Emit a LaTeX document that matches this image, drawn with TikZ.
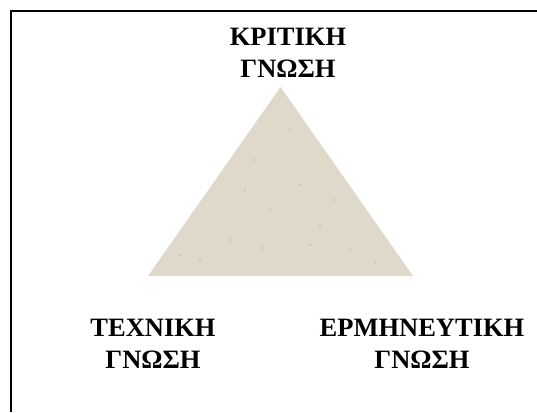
\documentclass[tikz,border=0pt]{standalone}
\usepackage{fontspec}
\setmainfont{Liberation Serif}
\usepackage{tikz}
\usetikzlibrary{positioning}
\definecolor{stonebeige}{RGB}{223,217,203}
\definecolor{stonespeck}{RGB}{160,150,130}

\begin{document}
\begin{tikzpicture}[x=1pt, y=-1pt,
    knowtext/.style={font=\fontsize{26.5}{32}\selectfont\bfseries, align=center, inner sep=0pt}]
    \useasboundingbox (0,0) rectangle (537,412);
    % frame: only top and left edges fall inside
    \draw[line width=1.6pt] (537,11) -- (11,11) -- (11,412);

    % stone triangle
    \coordinate (apex) at (280.5,87);
    \coordinate (bl) at (148,276);
    \coordinate (br) at (413,276);
    \fill[stonebeige] (apex) -- (bl) -- (br) -- cycle;
    \foreach \p in {(255,160),(290,130),(300,185),(320,225),(230,240),(270,210),(350,250),(200,260),(335,200),(180,255),(375,262),(245,190),(310,245),(262,248)}
        \fill[stonespeck, opacity=0.3] \p circle (1.4pt);

    % labels
    \node[knowtext] (krit) at (288,53) {ΚΡΙΤΙΚΗ\\ΓΝΩΣΗ};
    \node[knowtext] (tech) at (153,344) {ΤΕΧΝΙΚΗ\\ΓΝΩΣΗ};
    \node[knowtext] (herm) at (422,344) {ΕΡΜΗΝΕΥΤΙΚΗ\\ΓΝΩΣΗ};
\end{tikzpicture}
\end{document}
